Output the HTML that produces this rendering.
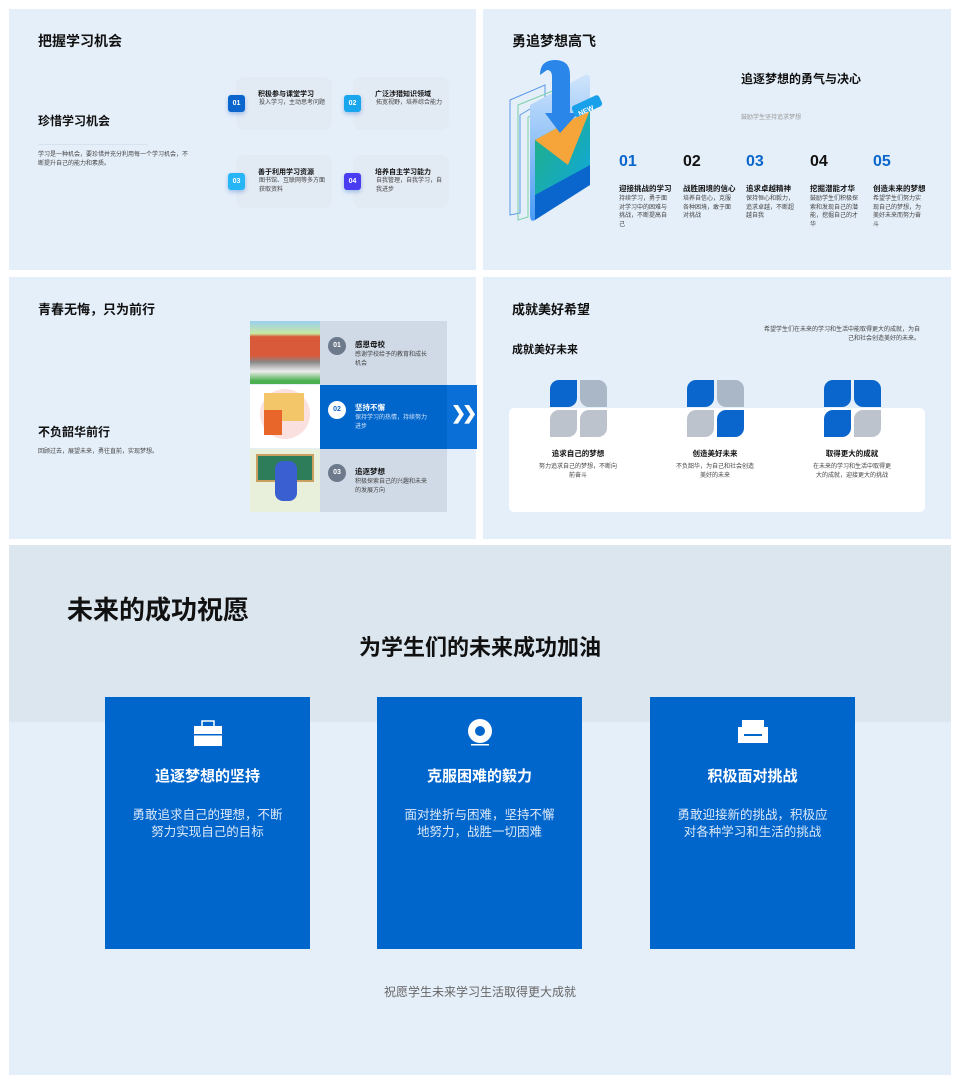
<!DOCTYPE html>
<html><head><meta charset="utf-8"><style>
*{margin:0;padding:0;box-sizing:border-box}
body{width:960px;height:1084px;background:#fff;position:relative;overflow:hidden;font-family:"Liberation Sans","Noto Sans CJK SC",sans-serif;color:#111}
.p{position:absolute;background:#e5eff9}
.a{position:absolute;white-space:nowrap}
.b{font-weight:bold}
.s{font-size:6px;color:#444;line-height:8.5px;white-space:normal}
.card{position:absolute;background:#e2eaf4;border-radius:8px;width:96px;height:53px}
.badge{position:absolute;width:17px;height:17px;border-radius:3px;color:#fff;font-size:7px;font-weight:bold;text-align:center;line-height:17px;box-shadow:0 2px 4px rgba(0,80,200,.3)}
.num{position:absolute;font-size:16px;font-weight:bold}
.circ{position:absolute;width:18px;height:18px;border-radius:50%;background:#6d7a8c;color:#fff;font-size:7px;font-weight:bold;text-align:center;line-height:18px}
.q{position:absolute;width:27px;height:27px}
.bc{position:absolute;background:#0066cc;width:205px;height:252px;top:697px;color:#fff;text-align:center}
.bc h3{position:absolute;top:68px;width:100%;font-size:15px}
.bc p{position:absolute;top:110px;left:0;right:0;font-size:12.5px;line-height:17px;color:#dbe8f8;white-space:nowrap}
</style></head><body>
<!-- panel 1 -->
<div class="p" style="left:9px;top:9px;width:467px;height:261px"></div>
<div class="a b" style="left:38px;top:31px;font-size:14px">把握学习机会</div>
<div class="a b" style="left:38px;top:112px;font-size:12px">珍惜学习机会</div>
<div class="a" style="left:38px;top:144px;width:110px;border-top:1px solid #d8e2ee"></div>
<div class="a s" style="left:38px;top:151px;width:150px">学习是一种机会，要珍惜并充分利用每一个学习机会，不断提升自己的能力和素质。</div>
<div class="card" style="left:236px;top:77px"></div>
<div class="card" style="left:353px;top:77px"></div>
<div class="card" style="left:236px;top:155px"></div>
<div class="card" style="left:353px;top:155px"></div>
<div class="badge" style="left:228px;top:95px;background:#0a66cc">01</div>
<div class="badge" style="left:344px;top:95px;background:#1aa6ec">02</div>
<div class="badge" style="left:228px;top:173px;background:#27b6f5">03</div>
<div class="badge" style="left:344px;top:173px;background:#4a3cf0">04</div>
<div class="a b" style="left:258px;top:89px;font-size:7px">积极参与课堂学习</div>
<div class="a s" style="left:259px;top:99px">投入学习，主动思考问题</div>
<div class="a b" style="left:375px;top:89px;font-size:7px">广泛涉猎知识领域</div>
<div class="a s" style="left:376px;top:99px">拓宽视野，培养综合能力</div>
<div class="a b" style="left:258px;top:167px;font-size:7px">善于利用学习资源</div>
<div class="a s" style="left:259px;top:177px;width:70px">图书馆、互联网等多方面获取资料</div>
<div class="a b" style="left:375px;top:167px;font-size:7px">培养自主学习能力</div>
<div class="a s" style="left:376px;top:177px;width:66px">自我管理，自我学习，自我进步</div>

<!-- panel 2 -->
<div class="p" style="left:483px;top:9px;width:468px;height:261px"></div>
<div class="a b" style="left:512px;top:31px;font-size:14px">勇追梦想高飞</div>
<svg class="a" style="left:500px;top:55px" width="110" height="175" viewBox="0 0 110 175">
<defs><linearGradient id="g1" x1="0" y1="0" x2="0" y2="1"><stop offset="0" stop-color="#cfe4fb"/><stop offset="1" stop-color="#4a9cf5"/></linearGradient>
<linearGradient id="g2" x1="0" y1="0" x2="1" y2="1"><stop offset="0" stop-color="#22b07a"/><stop offset="1" stop-color="#10a8e0"/></linearGradient></defs>
<path d="M10 80 L10 160 L20 158 L20 60 L45 45 L45 30 L10 45Z" fill="none" stroke="#5b9ae8" stroke-width="1"/>
<path d="M18 88 L18 165 L28 162 L28 62 L55 48 L55 35 L18 50Z" fill="none" stroke="#7ccfa8" stroke-width="1"/>
<path d="M30 50 L85 20 Q90 18 90 25 L90 120 Q90 125 85 127 L35 165 Q30 168 30 160Z" fill="url(#g1)"/>
<path d="M35 95 L90 62 L90 130 L35 165Z" fill="#0a66cc"/>
<path d="M35 85 L90 55 L90 110 L35 140Z" fill="url(#g2)"/>
<path d="M35 85 L90 55 L68 110Z" fill="#f5a53a"/>
<path d="M40 20 Q40 5 55 5 Q70 5 70 20 L70 58 L78 58 L60 78 L45 58 L52 58 L52 22 Q52 15 47 15 Z" fill="#2a86e8"/>
<rect x="72" y="45" width="30" height="12" rx="3" fill="#19a0ea" transform="rotate(-25 87 51)"/>
<text x="76" y="57" font-size="7" fill="#fff" font-weight="bold" transform="rotate(-25 87 51)">NEW</text>
</svg>
<div class="a b" style="left:741px;top:70px;font-size:12px">追逐梦想的勇气与决心</div>
<div class="a" style="left:741px;top:112px;font-size:6px;color:#999">鼓励学生坚持追求梦想</div>
<div class="num" style="left:619px;top:153px;color:#0a66cc">01</div>
<div class="num" style="left:683px;top:153px;color:#111">02</div>
<div class="num" style="left:746px;top:153px;color:#0a66cc">03</div>
<div class="num" style="left:810px;top:153px;color:#111">04</div>
<div class="num" style="left:873px;top:153px;color:#0a66cc">05</div>
<div class="a b" style="left:619px;top:183px;font-size:7.5px">迎接挑战的学习</div>
<div class="a b" style="left:683px;top:183px;font-size:7.5px">战胜困境的信心</div>
<div class="a b" style="left:746px;top:183px;font-size:7.5px">追求卓越精神</div>
<div class="a b" style="left:810px;top:183px;font-size:7.5px">挖掘潜能才华</div>
<div class="a b" style="left:873px;top:183px;font-size:7.5px">创造未来的梦想</div>
<div class="a s" style="left:619px;top:195px;width:50px">持续学习，勇于面对学习中的困难与挑战，不断提高自己</div>
<div class="a s" style="left:683px;top:195px;width:50px">培养自信心，克服各种困境，敢于面对挑战</div>
<div class="a s" style="left:746px;top:195px;width:50px">保持恒心和毅力，追求卓越，不断超越自我</div>
<div class="a s" style="left:810px;top:195px;width:50px">鼓励学生们积极探索和发现自己的潜能，挖掘自己的才华</div>
<div class="a s" style="left:873px;top:195px;width:50px">希望学生们努力实现自己的梦想，为美好未来而努力奋斗</div>

<!-- panel 3 -->
<div class="p" style="left:9px;top:277px;width:467px;height:262px"></div>
<div class="a b" style="left:38px;top:299px;font-size:13px">青春无悔，只为前行</div>
<div class="a b" style="left:38px;top:423px;font-size:12px">不负韶华前行</div>
<div class="a s" style="left:38px;top:448px">回顾过去，展望未来，勇往直前，实现梦想。</div>
<div class="a" style="left:250px;top:321px;width:70px;height:63px;background:linear-gradient(#9ad0f0 0,#c8e8a0 20%,#d85a3a 25%,#d85a3a 55%,#888 65%,#eee 80%,#4caf50 95%)"></div>
<div class="a" style="left:250px;top:385px;width:70px;height:63px;background:#fff"><div style="position:absolute;left:10px;top:4px;width:50px;height:50px;border-radius:50%;background:#fbe0e0"></div><div style="position:absolute;left:14px;top:8px;width:40px;height:28px;background:#f3c66a"></div><div style="position:absolute;left:14px;top:25px;width:18px;height:25px;background:#e8662a"></div></div>
<div class="a" style="left:250px;top:449px;width:70px;height:63px;background:#e8f0dc"><div style="position:absolute;left:6px;top:5px;width:58px;height:28px;background:#2e7d5a;border:2px solid #caa060"></div><div style="position:absolute;left:25px;top:12px;width:22px;height:40px;background:#3a5fd0;border-radius:8px"></div></div>
<div class="a" style="left:320px;top:321px;width:127px;height:191px;background:#d0dae6"></div>
<div class="a" style="left:320px;top:385px;width:157px;height:64px;background:#0066cc"></div>
<div class="a" style="left:447px;top:385px;width:30px;height:64px;background:#0a6fd6"></div>
<div class="a b" style="left:451px;top:403px;color:#fff;font-size:18px;letter-spacing:-4px">❯❯</div>
<div class="circ" style="left:328px;top:337px">01</div>
<div class="circ" style="left:328px;top:401px;background:#fff;color:#0a66cc">02</div>
<div class="circ" style="left:328px;top:464px">03</div>
<div class="a b" style="left:355px;top:339px;font-size:7.5px">感恩母校</div>
<div class="a s" style="left:355px;top:351px;width:75px">感谢学校给予的教育和成长机会</div>
<div class="a b" style="left:355px;top:402px;font-size:7.5px;color:#fff">坚持不懈</div>
<div class="a s" style="left:355px;top:414px;width:75px;color:#cfe2f8">保持学习的热情，持续努力进步</div>
<div class="a b" style="left:355px;top:466px;font-size:7.5px">追逐梦想</div>
<div class="a s" style="left:355px;top:478px;width:75px">积极探索自己的兴趣和未来的发展方向</div>

<!-- panel 4 -->
<div class="p" style="left:483px;top:277px;width:468px;height:262px"></div>
<div class="a b" style="left:512px;top:299px;font-size:13px">成就美好希望</div>
<div class="a b" style="left:512px;top:341px;font-size:11px">成就美好未来</div>
<div class="a s" style="left:760px;top:326px;width:160px;text-align:right">希望学生们在未来的学习和生活中能取得更大的成就，为自己和社会创造美好的未来。</div>
<div class="a" style="left:509px;top:408px;width:416px;height:104px;background:#fff;border-radius:5px"></div>
<div class="q" style="left:550px;top:380px;background:#0a66cc;border-radius:9px 0 9px 0"></div>
<div class="q" style="left:580px;top:380px;background:#aab7c6;border-radius:0 9px 0 9px"></div>
<div class="q" style="left:550px;top:410px;background:#bcc3cc;border-radius:9px 0 9px 0"></div>
<div class="q" style="left:580px;top:410px;background:#bcc3cc;border-radius:9px 0 9px 0"></div>
<div class="q" style="left:687px;top:380px;background:#0a66cc;border-radius:9px 0 9px 0"></div>
<div class="q" style="left:717px;top:380px;background:#aab7c6;border-radius:0 9px 0 9px"></div>
<div class="q" style="left:687px;top:410px;background:#bcc3cc;border-radius:9px 0 9px 0"></div>
<div class="q" style="left:717px;top:410px;background:#0a66cc;border-radius:9px 0 9px 0"></div>
<div class="q" style="left:824px;top:380px;background:#0a66cc;border-radius:9px 0 9px 0"></div>
<div class="q" style="left:854px;top:380px;background:#0a66cc;border-radius:0 9px 0 9px"></div>
<div class="q" style="left:824px;top:410px;background:#0a66cc;border-radius:9px 0 9px 0"></div>
<div class="q" style="left:854px;top:410px;background:#bcc3cc;border-radius:9px 0 9px 0"></div>
<div class="a b" style="left:528px;top:448px;width:100px;text-align:center;font-size:7.5px">追求自己的梦想</div>
<div class="a b" style="left:665px;top:448px;width:100px;text-align:center;font-size:7.5px">创造美好未来</div>
<div class="a b" style="left:802px;top:448px;width:100px;text-align:center;font-size:7.5px">取得更大的成就</div>
<div class="a s" style="left:538px;top:463px;width:80px;text-align:center">努力追求自己的梦想，不断向前奋斗</div>
<div class="a s" style="left:675px;top:463px;width:80px;text-align:center">不负韶华，为自己和社会创造美好的未来</div>
<div class="a s" style="left:812px;top:463px;width:80px;text-align:center">在未来的学习和生活中取得更大的成就，迎接更大的挑战</div>

<!-- bottom -->
<div class="p" style="left:9px;top:545px;width:942px;height:530px"></div>
<div class="a" style="left:9px;top:545px;width:942px;height:177px;background:#dce6ef"></div>
<div class="a b" style="left:67px;top:590px;font-size:26px">未来的成功祝愿</div>
<div class="a b" style="left:0;width:960px;text-align:center;top:630px;font-size:22px">为学生们的未来成功加油</div>
<div class="bc" style="left:105px">
<svg style="position:absolute;left:88px;top:23px" width="30" height="27"><rect x="9" y="1" width="12" height="6" fill="none" stroke="#fff" stroke-width="1.5"/><rect x="1" y="6" width="28" height="20" fill="#fff"/><rect x="1" y="14" width="28" height="1.5" fill="#0066cc"/></svg>
<h3>追逐梦想的坚持</h3><p>勇敢追求自己的理想，不断<br>努力实现自己的目标</p></div>
<div class="bc" style="left:377px">
<svg style="position:absolute;left:88px;top:20px" width="30" height="30"><circle cx="15" cy="14" r="12" fill="#fff"/><circle cx="15" cy="14" r="5" fill="#0066cc"/><rect x="6" y="27" width="18" height="1.5" fill="#fff"/></svg>
<h3>克服困难的毅力</h3><p>面对挫折与困难，坚持不懈<br>地努力，战胜一切困难</p></div>
<div class="bc" style="left:650px">
<svg style="position:absolute;left:87px;top:22px" width="32" height="26"><rect x="5" y="1" width="22" height="14" fill="#fff"/><rect x="1" y="8" width="6" height="16" fill="#fff"/><rect x="25" y="8" width="6" height="16" fill="#fff"/><rect x="1" y="17" width="30" height="7" fill="#fff"/></svg>
<h3>积极面对挑战</h3><p>勇敢迎接新的挑战，积极应<br>对各种学习和生活的挑战</p></div>
<div class="a" style="left:0;width:960px;text-align:center;top:983px;font-size:12px;color:#666">祝愿学生未来学习生活取得更大成就</div>
</body></html>
